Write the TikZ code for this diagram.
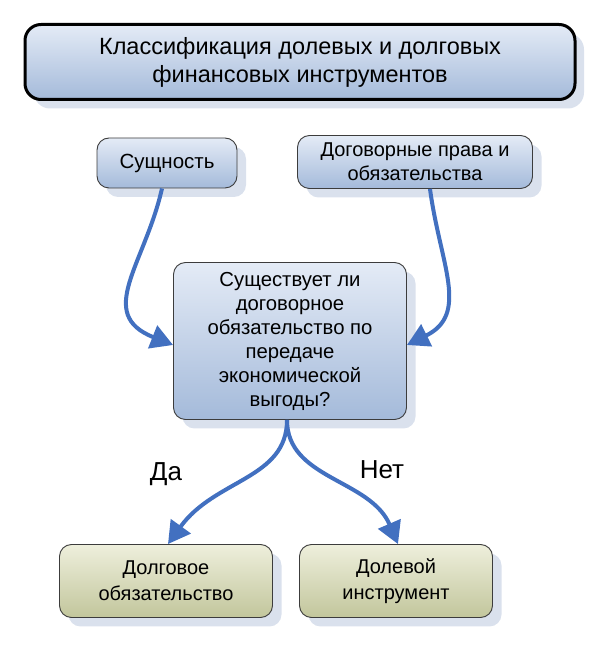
\documentclass[tikz,border=0pt]{standalone}
\usepackage{fontspec}
\setmainfont{Liberation Sans}
\usetikzlibrary{arrows.meta,shadows,calc}
\definecolor{arrowblue}{RGB}{66,112,192}
\definecolor{bluetop}{RGB}{228,235,246}
\definecolor{bluebot}{RGB}{164,186,218}
\definecolor{greentop}{RGB}{238,239,220}
\definecolor{greenbot}{RGB}{194,198,156}
\definecolor{shadowc}{RGB}{218,225,237}
\definecolor{edgec}{RGB}{60,60,60}
\tikzset{
  bluebox/.style={draw=edgec, line width=0.9pt, rounded corners=12pt, top color=bluetop, bottom color=bluebot,
    drop shadow={shadow xshift=9pt, shadow yshift=-9pt, fill=shadowc, opacity=1},
    align=center, inner sep=2pt, font=\fontsize{20.3}{24}\selectfont},
  greenbox/.style={bluebox, top color=greentop, bottom color=greenbot},
  titlebox/.style={bluebox, draw=black, line width=3pt, rounded corners=16pt, font=\fontsize{23.5}{28}\selectfont},
  flow/.style={draw=arrowblue, line width=4pt, -{Triangle[length=22pt,width=24pt]}},
  lbl/.style={font=\fontsize{26}{30}\selectfont, inner sep=0pt}
}
\begin{document}
\begin{tikzpicture}[x=1pt,y=1pt]
\useasboundingbox (0,0) rectangle (600,654);
\node[titlebox, minimum width=550pt, minimum height=75pt] (t) at (300,592) {Классификация долевых и долговых\\финансовых инструментов};
\node[bluebox, minimum width=140pt, minimum height=50pt, font=\fontsize{20.5}{24}\selectfont] (s) at (167,491) {Сущность};
\node[bluebox, minimum width=235pt, minimum height=53pt, font=\fontsize{20}{24}\selectfont] (d) at (415,492) {Договорные права и\\обязательства};
\node[bluebox, minimum width=233pt, minimum height=157pt] (c) at (290,313) {Существует ли\\договорное\\обязательство по\\передаче\\экономической\\выгоды?};
\node[greenbox, minimum width=213pt, minimum height=73pt, font=\fontsize{20}{26}\selectfont] (l) at (166,73) {Долговое\\обязательство};
\node[greenbox, minimum width=193pt, minimum height=73pt, font=\fontsize{20}{26}\selectfont] (r) at (396,73) {Долевой\\инструмент};
\draw[flow] ($(s.south)+(-5,0)$) .. controls (145,390) and (95,340) .. ($(c.west)+(0,-4)$);
\draw[flow] ($(d.south)+(15,0)$) .. controls (440,390) and (470,340) .. ($(c.east)+(0,-4)$);
\draw[flow] ($(c.south)+(-3,0)$) .. controls (287,175) and (215,175) .. ($(l.north)+(2,0)$);
\draw[flow] ($(c.south)+(-3,0)$) .. controls (287,175) and (370,175) .. ($(r.north)+(2,0)$);
\node[lbl] (da) at (166,180) {Да};
\node[lbl] (net) at (382,184) {Нет};
\end{tikzpicture}
\end{document}
